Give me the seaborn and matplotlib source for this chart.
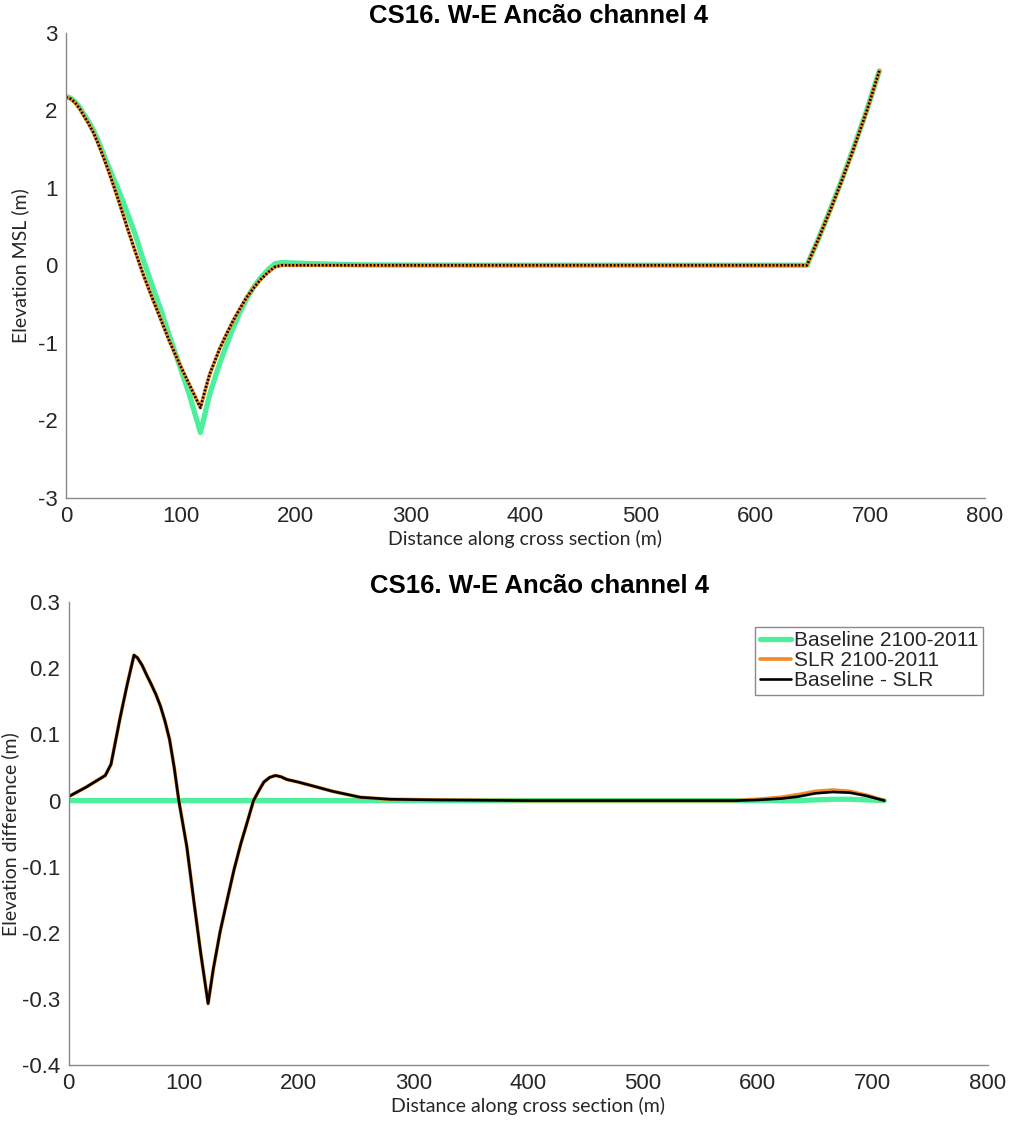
import matplotlib
matplotlib.use("Agg")
import matplotlib.pyplot as plt
import seaborn as sns
import pandas as pd

# ---- Cross-section profile (elevation, m MSL) ----
profile_x = [0, 4, 8, 12, 16, 20, 24, 28, 32, 36, 40, 45, 50, 55, 60, 67, 75, 82, 90,
             99, 108, 117, 121, 125, 130, 134, 140, 145, 151, 157, 163, 169, 176, 182,
             188, 200, 213, 230, 254, 300, 400, 500, 600, 645, 655, 665, 675, 685, 697, 708]
profile_slr = [2.17, 2.15, 2.10, 2.02, 1.92, 1.82, 1.71, 1.57, 1.42, 1.26, 1.09, 0.87,
               0.64, 0.41, 0.19, -0.11, -0.42, -0.68, -0.98, -1.28, -1.56, -1.84, -1.62,
               -1.41, -1.22, -1.07, -0.88, -0.73, -0.57, -0.42, -0.30, -0.19, -0.09,
               -0.02, 0.0, 0.0, 0.0, 0.0, 0.0, 0.0, 0.0, 0.0, 0.0, 0.0, 0.34, 0.70,
               1.08, 1.48, 1.99, 2.51]
profile_base = [2.18, 2.16, 2.11, 2.04, 1.94, 1.85, 1.74, 1.61, 1.46, 1.31, 1.17, 1.00,
                0.81, 0.61, 0.41, 0.08, -0.26, -0.55, -0.91, -1.30, -1.70, -2.16, -1.92,
                -1.67, -1.44, -1.26, -1.02, -0.83, -0.62, -0.44, -0.29, -0.17, -0.055,
                0.02, 0.036, 0.028, 0.022, 0.014, 0.005, 0.002, 0.0, 0.0, 0.0, 0.0,
                0.34, 0.71, 1.09, 1.49, 2.00, 2.51]

# ---- Elevation differences (m) ----
diff_x = [0, 15, 32, 37, 45, 51, 57, 60, 64, 68, 72, 76, 80, 84, 88, 92, 96, 103, 109,
          115, 121.5, 126, 132, 138, 144, 150, 156, 161, 166, 170, 175, 180, 185, 190,
          200, 213, 230, 254, 280, 320, 400, 500, 580, 600, 620, 635, 650, 665, 680,
          695, 710]
diff_baseline = [0.0] * 46 + [0.001, 0.002, 0.002, 0.001, 0.0]
diff_slr = [0.006, 0.02, 0.038, 0.055, 0.126, 0.175, 0.22, 0.216, 0.205, 0.19, 0.176,
            0.161, 0.143, 0.12, 0.092, 0.05, 0.0, -0.07, -0.151, -0.23, -0.307, -0.255,
            -0.198, -0.151, -0.105, -0.065, -0.03, 0.0, 0.016, 0.028, 0.035, 0.038,
            0.036, 0.032, 0.028, 0.022, 0.014, 0.005, 0.002, 0.001, 0.0, 0.0, 0.0,
            0.002, 0.005, 0.009, 0.014, 0.016, 0.014, 0.008, 0.0]
diff_base_minus_slr = [0.006, 0.02, 0.038, 0.055, 0.126, 0.175, 0.22, 0.216, 0.205,
                       0.19, 0.176, 0.161, 0.143, 0.12, 0.092, 0.05, 0.0, -0.07, -0.151,
                       -0.23, -0.307, -0.255, -0.198, -0.151, -0.105, -0.065, -0.03,
                       0.0, 0.016, 0.028, 0.035, 0.038, 0.036, 0.032, 0.028, 0.022,
                       0.014, 0.005, 0.002, 0.001, 0.0, 0.0, 0.0, 0.001, 0.003, 0.006,
                       0.011, 0.013, 0.012, 0.007, 0.0]

title_text = "CS16. W-E Ancão channel 4"
legend_labels = ["Baseline 2100-2011", "SLR 2100-2011", "Baseline - SLR"]

GREEN = "#4cf09c"
ORANGE = "#f08a24"
BLACK = "#000000"
TEXT = "#262626"
SPINE = "#8a8a8a"

sns.set_style("white")
plt.rcParams["font.family"] = ["Liberation Sans", "DejaVu Sans"]
plt.rcParams["axes.unicode_minus"] = False

fig = plt.figure(figsize=(10.14, 11.28), dpi=100)
W, H = 1014, 1128


def axes_px(left, right, top, bottom):
    return fig.add_axes([left / W, 1 - bottom / H, (right - left) / W, (bottom - top) / H])


def style_axes(ax):
    for s in ["top", "right"]:
        ax.spines[s].set_visible(False)
    for s in ["left", "bottom"]:
        ax.spines[s].set_color(SPINE)
        ax.spines[s].set_linewidth(1.0)
    ax.tick_params(direction="in", length=7, width=1, color=SPINE,
                   labelsize=16, labelcolor=TEXT, pad=6)
    ax.grid(False)


label_font = dict(family=["Lato", "DejaVu Sans"], fontsize=14, color=TEXT)
title_font = dict(fontsize=18.5, fontweight="bold", color="#000000")

# ---- Top: profiles ----
ax1 = axes_px(66, 985, 33, 497.5)
df_top = pd.DataFrame({"x": profile_x, "base": profile_base, "slr": profile_slr})
sns.lineplot(data=df_top, x="x", y="base", ax=ax1, color=GREEN, linewidth=3.8)
sns.lineplot(data=df_top, x="x", y="slr", ax=ax1, color=ORANGE, linewidth=2.6)
sns.lineplot(data=df_top, x="x", y="slr", ax=ax1, color=BLACK, linewidth=1.9,
             linestyle=(0, (0.7, 0.7)))
ax1.set_xlim(0, 800)
ax1.set_ylim(-3, 3)
ax1.set_xticks(range(0, 801, 100))
ax1.set_yticks(range(-3, 4))
style_axes(ax1)
ax1.set_xlabel("Distance along cross section (m)", labelpad=2, **label_font)
ax1.set_ylabel("Elevation MSL (m)", labelpad=6, **label_font)
ax1.set_title(title_text, pad=7, x=0.514, **title_font)

# ---- Bottom: differences ----
ax2 = axes_px(68.5, 987.7, 602.3, 1065)
df_bot = pd.DataFrame({"x": diff_x, "b": diff_baseline, "s": diff_slr,
                       "d": diff_base_minus_slr})
sns.lineplot(data=df_bot, x="x", y="b", ax=ax2, color=GREEN, linewidth=3.8,
             label=legend_labels[0])
sns.lineplot(data=df_bot, x="x", y="s", ax=ax2, color=ORANGE, linewidth=2.6,
             label=legend_labels[1])
sns.lineplot(data=df_bot, x="x", y="d", ax=ax2, color=BLACK, linewidth=1.9,
             label=legend_labels[2])
ax2.set_xlim(0, 800)
ax2.set_ylim(-0.4, 0.3)
ax2.set_xticks(range(0, 801, 100))
ax2.set_yticks([-0.4, -0.3, -0.2, -0.1, 0, 0.1, 0.2, 0.3])
ax2.set_yticklabels(["-0.4", "-0.3", "-0.2", "-0.1", "0", "0.1", "0.2", "0.3"])
style_axes(ax2)
ax2.set_xlabel("Distance along cross section (m)", labelpad=2, **label_font)
ax2.set_ylabel("Elevation difference (m)", labelpad=2, **label_font)
ax2.set_title(title_text, pad=7, x=0.512, **title_font)

leg = ax2.legend(loc="upper right", bbox_to_anchor=(0.995, 0.947), fontsize=15,
                 frameon=True, fancybox=False, edgecolor=SPINE, framealpha=1,
                 handlelength=1.5, handletextpad=0.15, labelspacing=0.05,
                 borderpad=0.22, borderaxespad=0)
leg.get_frame().set_linewidth(1.0)
for t in leg.get_texts():
    t.set_color(TEXT)

fig.savefig("out.png", dpi=100)
